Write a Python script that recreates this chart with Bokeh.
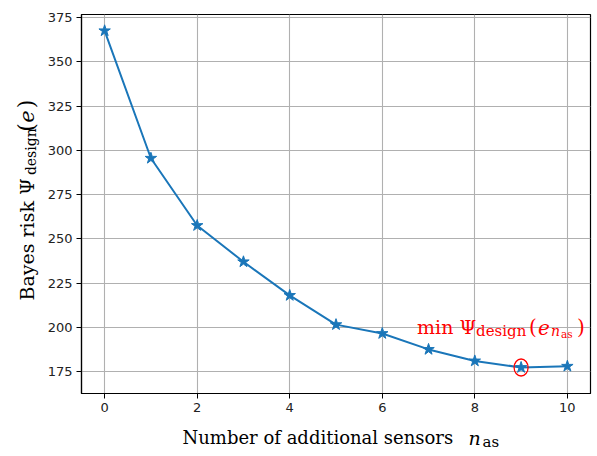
import math
from bokeh.plotting import figure
from bokeh.layouts import row, column
from bokeh.models import Range1d, FixedTicker, Label
from bokeh.embed import file_html
from bokeh.resources import INLINE

# ---- data ----
n_sensors = [0, 1, 2, 3, 4, 5, 6, 7, 8, 9, 10]
bayes_risk = [367.5, 295.5, 257.5, 237.0, 218.0, 201.5, 196.5, 187.5, 181.0, 177.3, 178.0]
x_ticks = [0, 2, 4, 6, 8, 10]
y_ticks = [175, 200, 225, 250, 275, 300, 325, 350, 375]

LINE = "#1a76b9"
SERIF = "DejaVu Serif"
RED = "#ff0000"

W, H = 597, 456
LEFT_STRIP, BOTTOM_STRIP = 44, 36

# ---- main plot ----
p = figure(width=W - LEFT_STRIP, height=H - BOTTOM_STRIP, output_backend="svg",
           toolbar_location=None, title=None,
           x_range=Range1d(-0.5, 10.5), y_range=Range1d(162.6, 376.7),
           min_border_left=81 - LEFT_STRIP, min_border_right=7, min_border_top=14,
           min_border_bottom=27)

p.background_fill_color = "white"
p.border_fill_color = "white"
p.outline_line_color = "black"
p.outline_line_width = 1.2

for ax, ticks in ((p.xaxis, x_ticks), (p.yaxis, y_ticks)):
    ax.ticker = FixedTicker(ticks=ticks)
    ax.axis_line_color = "black"
    ax.axis_line_width = 1.2
    ax.major_tick_line_color = "black"
    ax.major_tick_in = 0
    ax.major_tick_out = 5
    ax.minor_tick_line_color = None
    ax.major_label_text_font = "DejaVu Sans"
    ax.major_label_text_font_size = "13px"
    ax.major_label_text_color = "#222222"
    ax.major_label_standoff = 4

p.xgrid.ticker = FixedTicker(ticks=x_ticks)
p.ygrid.ticker = FixedTicker(ticks=y_ticks)
for g in (p.xgrid, p.ygrid):
    g.grid_line_color = "#b0b0b0"
    g.grid_line_width = 1.1

p.line(n_sensors, bayes_risk, line_color=LINE, line_width=2)
p.scatter(n_sensors, bayes_risk, marker="star", size=12, fill_color=LINE,
          line_color=LINE)

# minimum point and its marker
imin = min(range(len(bayes_risk)), key=lambda i: bayes_risk[i])
xm, ym = n_sensors[imin], bayes_risk[imin]
p.ellipse(x=[xm], y=[ym], width=14, height=17, width_units="screen",
          height_units="screen", fill_color=None, line_color="red", line_width=1.3)


def lab(fig, text, x, y, size, style="normal", color="black", angle=0.0, xo=0, yo=0):
    fig.add_layout(Label(x=x, y=y, x_offset=xo, y_offset=yo, text=text,
                         text_font=SERIF, text_font_size=f"{size}px",
                         text_font_style=style, text_color=color, angle=angle,
                         text_align="left", text_baseline="alphabetic"))


# annotation next to the minimum (offsets in pixels from the point)
lab(p, "min \u03a8", xm, ym, 19, color=RED, xo=-104, yo=40)
lab(p, "design", xm, ym, 15, color=RED, xo=-45, yo=36)
lab(p, "(", xm, ym, 20, color=RED, xo=8, yo=40)
lab(p, "e", xm, ym, 20, style="italic", color=RED, xo=17, yo=40)
lab(p, "n", xm, ym, 14, style="italic", color=RED, xo=30, yo=36)
lab(p, "as", xm, ym, 10.5, color=RED, xo=40, yo=33)
lab(p, ")", xm, ym, 20, color=RED, xo=56, yo=40)


def strip(w, h):
    f = figure(width=w, height=h, output_backend="svg", toolbar_location=None,
               title=None, x_axis_type=None, y_axis_type=None,
               x_range=Range1d(0, w), y_range=Range1d(0, h), min_border=0)
    f.outline_line_color = None
    f.grid.visible = False
    f.background_fill_color = "white"
    f.border_fill_color = "white"
    return f


# ---- y-axis label strip (coordinates: pixels, y measured from strip bottom) ----
hy = H - BOTTOM_STRIP
yl = strip(LEFT_STRIP, hy)
A = math.pi / 2
lab(yl, "Bayes risk \u03a8", 26, hy - 317, 19, angle=A)
lab(yl, "design", 30, hy - 178, 14, angle=A)
lab(yl, "(", 26, hy - 130, 22, angle=A)
lab(yl, "e", 26, hy - 120, 21, style="italic", angle=A)
lab(yl, ")", 26, hy - 104, 22, angle=A)

# ---- x-axis label strip ----
xl = strip(W, BOTTOM_STRIP)
lab(xl, "Number of additional sensors", 182, H - 437, 18)
lab(xl, "n", 468, H - 437, 19, style="italic")
lab(xl, "as", 482, H - 441, 15)

layout = column(row(yl, p, spacing=0), xl, spacing=0)
open("out.html", "w").write(file_html(layout, INLINE))
